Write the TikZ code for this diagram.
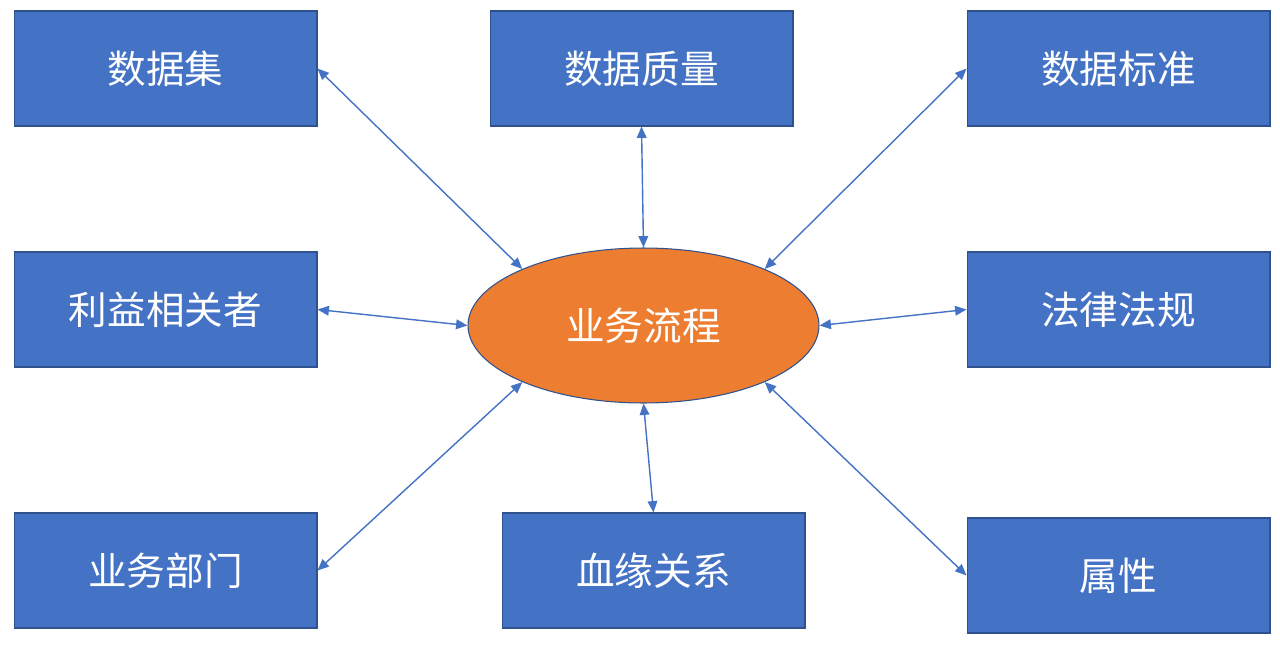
\documentclass[tikz,border=0pt]{standalone}
\usepackage{fontspec}
\newfontfamily\cjk{Noto Sans CJK SC}
\usetikzlibrary{arrows.meta, shapes.geometric}

\definecolor{topicblue}{HTML}{4472C4}
\definecolor{topicedge}{HTML}{2F528F}
\definecolor{procorange}{HTML}{ED7D31}

\begin{document}
\begin{tikzpicture}[
  x=0.02cm, y=-0.02cm,
  >={Triangle[length=6.5pt, width=5.5pt]},
  topic box/.style={
    draw=topicedge,
    fill=topicblue,
    line width=0.6pt,
    text=white,
    minimum width=6.06cm,
    minimum height=2.3cm,
    inner sep=0pt,
    font=\cjk\fontsize{22}{26}\selectfont
  },
  process ellipse/.style={
    ellipse,
    draw=topicedge,
    fill=procorange,
    line width=0.6pt,
    text=white,
    minimum width=7.02cm,
    minimum height=3.1cm,
    inner sep=0pt,
    font=\cjk\fontsize{22}{26}\selectfont
  },
  link arrow/.style={
    <->,
    draw=topicblue,
    line width=0.8pt
  }
]
\useasboundingbox (0,0) rectangle (1280,652);

\node[process ellipse] (process) at (643.5, 325.5) {业务流程};

\node[topic box] (dataset) at (165.5, 68.5) {数据集};
\node[topic box] (quality) at (641.5, 68.5) {数据质量};
\node[topic box] (standard) at (1118.5, 68.5) {数据标准};
\node[topic box] (stakeholder) at (165.5, 309.5) {利益相关者};
\node[topic box] (regulation) at (1118.5, 309.5) {法律法规};
\node[topic box] (department) at (165.5, 570.5) {业务部门};
\node[topic box] (lineage) at (653.5, 570.5) {血缘关系};
\node[topic box] (attribute) at (1118.5, 575.5) {属性};

\draw[link arrow] (dataset.east) -- (process.155);
\draw[link arrow] (quality.south) -- (process.north);
\draw[link arrow] (standard.west) -- (process.25);
\draw[link arrow] (stakeholder.east) -- (process.west);
\draw[link arrow] (regulation.west) -- (process.east);
\draw[link arrow] (department.east) -- (process.205);
\draw[link arrow] (lineage.north) -- (process.south);
\draw[link arrow] (attribute.west) -- (process.335);

\end{tikzpicture}
\end{document}
